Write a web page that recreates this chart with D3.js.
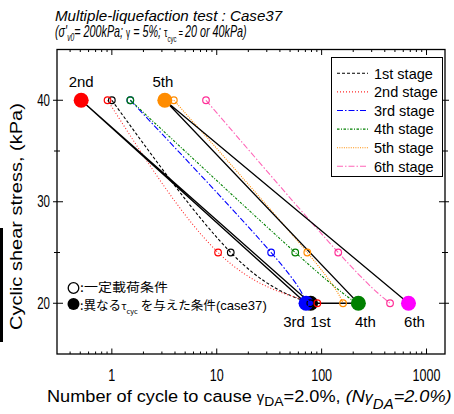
<!DOCTYPE html>
<html><head><meta charset="utf-8">
<script src="https://cdn.jsdelivr.net/npm/d3@7"></script>
<style>
body{margin:0;background:#fff}
svg{display:block}
text{font-family:"Liberation Sans",Arial,sans-serif;fill:#000}
</style>
</head><body><svg id="c" width="454" height="414"></svg>
<script>
// ---------------- data ----------------
const stages = ["1st stage","2nd stage","3rd stage","4th stage","5th stage","6th stage"];
const stageLabels = ["1st","2nd","3rd","4th","5th","6th"];
const tauLevels = [40, 25, 20];
// open circles (constant loading) : N at tau = 40, 25, 20
const open1st = [1.0, 13.6, 78];
const open2nd = [0.91, 10.3, 91];
const open3rd = [1.5, 33, 71];
const open4th = [1.5, 56, 215];
const open5th = [3.9, 73, 160];
const open6th = [7.9, 144, 449];
const openSeries = [open1st, open2nd, open3rd, open4th, open5th, open6th];
// filled circles (case37 sequence)
const filledN   = [78.5, 0.51, 71, 224, 3.2, 673];
const filledTau = [20, 40, 20, 20, 40, 20];
const xTickValues = [1, 10, 100, 1000];
const xTickLabels = ["1", "10", "100", "1000"];
const yTickValues = [20, 30, 40];
const yTickLabels = ["20", "30", "40"];
const yMinorValues = [25, 35];

// ---------------- style ----------------
const lineColors  = ["#000000", "#ff2a2a", "#0000ff", "#008000", "#ff8c00", "#ff66b8"];
const openColors  = ["#000000", "#ff0000", "#0000ff", "#008000", "#ff8c00", "#ff2f97"];
const fillColors  = ["#000000", "#ff0000", "#0000ff", "#008000", "#ff8c00", "#ff00ff"];
const dashes      = ["3,2", "1,2", "6,2,1.5,2", "2.5,1.5,1,1.5", "1,1.3", "6,2,1.5,2"];
const labelDx = [10, 0, -12, 7, -2, 6];
const labelDy = [24, -13, 24, 24, -13, 24];

const svg = d3.select("#c");
const L = 57, R = 445, T = 49.5, B = 354;
const x = d3.scaleLog().domain([0.3, 1500]).range([L, R]);
const y = d3.scaleLinear().domain([15, 45]).range([B, T]);

// helper: draw text then horizontally scale to a target width
function fitText(build, tx, ty, targetW, rot) {
  const g = svg.append("g");
  const t = g.append("text");
  build(t);
  const w = t.node().getBBox().width;
  const s = targetW / w;
  g.attr("transform", `translate(${tx},${ty})` + (rot ? ` rotate(${rot})` : "") + ` scale(${s},1)`);
  return g;
}

// artifact bar at left edge
svg.append("rect").attr("x", 0).attr("y", 228).attr("width", 3).attr("height", 114).attr("fill", "#000");

// ---------------- axes ticks ----------------
const minorX = x.ticks().filter(v => xTickValues.indexOf(v) < 0 && v > 0.3 && v < 1500);
const tickG = svg.append("g").attr("stroke", "#000").attr("stroke-width", 1);
minorX.forEach(v => {
  tickG.append("line").attr("x1", x(v)).attr("x2", x(v)).attr("y1", B).attr("y2", B - 2.5);
  tickG.append("line").attr("x1", x(v)).attr("x2", x(v)).attr("y1", T).attr("y2", T + 2.5);
});
xTickValues.forEach(v => {
  tickG.append("line").attr("x1", x(v)).attr("x2", x(v)).attr("y1", B).attr("y2", B - 5.5);
  tickG.append("line").attr("x1", x(v)).attr("x2", x(v)).attr("y1", T).attr("y2", T + 5.5);
});
yTickValues.forEach(v => {
  tickG.append("line").attr("x1", L - 4).attr("x2", L + 6).attr("y1", y(v)).attr("y2", y(v));
  tickG.append("line").attr("x1", R - 6).attr("x2", R + 4).attr("y1", y(v)).attr("y2", y(v));
});
yMinorValues.forEach(v => {
  tickG.append("line").attr("x1", L - 3).attr("x2", L + 3).attr("y1", y(v)).attr("y2", y(v));
  tickG.append("line").attr("x1", R - 3).attr("x2", R + 3).attr("y1", y(v)).attr("y2", y(v));
});

// tick labels (narrow)
xTickValues.forEach((v, i) => {
  svg.append("text").attr("transform", `translate(${x(v)},381) scale(0.74,1)`)
    .attr("text-anchor", "middle").style("font-size", "17px").text(xTickLabels[i]);
});
yTickValues.forEach((v, i) => {
  svg.append("text").attr("transform", `translate(50,${y(v) + 5.5}) scale(0.72,1)`)
    .attr("text-anchor", "end").style("font-size", "16px").text(yTickLabels[i]);
});

// ---------------- stage curves (open circles) ----------------
const curve = d3.line().x(d => x(d[0])).y(d => y(d[1])).curve(d3.curveNatural);
openSeries.forEach((s, i) => {
  const pts = s.map((n, k) => [n, tauLevels[k]]);
  svg.append("path").attr("d", curve(pts)).attr("fill", "none")
    .attr("stroke", lineColors[i]).attr("stroke-width", 1.1).attr("stroke-dasharray", dashes[i]);
});

// ---------------- case37 sequence line ----------------
const seq = d3.line().x(d => x(d[0])).y(d => y(d[1]));
svg.append("path").attr("d", seq(filledN.map((n, i) => [n, filledTau[i]])))
  .attr("fill", "none").attr("stroke", "#000").attr("stroke-width", 1.3);

// filled markers
filledN.forEach((n, i) => {
  svg.append("circle").attr("cx", x(n)).attr("cy", y(filledTau[i])).attr("r", 7.5).attr("fill", fillColors[i]);
});
// open markers
openSeries.forEach((s, i) => {
  s.forEach((n, k) => {
    svg.append("circle").attr("cx", x(n)).attr("cy", y(tauLevels[k])).attr("r", 3.3)
      .attr("fill", "none").attr("stroke", openColors[i]).attr("stroke-width", 1.2);
  });
});
// stage labels
filledN.forEach((n, i) => {
  svg.append("text").attr("x", x(n) + labelDx[i]).attr("y", y(filledTau[i]) + labelDy[i])
    .attr("text-anchor", "middle").style("font-size", "15px").text(stageLabels[i]);
});

// frame
svg.append("rect").attr("x", L).attr("y", T).attr("width", R - L).attr("height", B - T)
  .attr("fill", "none").attr("stroke", "#000").attr("stroke-width", 1.3);

// ---------------- legend ----------------
const lg = svg.append("g");
lg.append("rect").attr("x", 331.5).attr("y", 57.5).attr("width", 111).attr("height", 119)
  .attr("fill", "#fff").attr("stroke", "#000").attr("stroke-width", 1);
stages.forEach((s, i) => {
  const yy = 73.3 + i * 18.6;
  lg.append("line").attr("x1", 337).attr("x2", 368).attr("y1", yy).attr("y2", yy)
    .attr("stroke", lineColors[i]).attr("stroke-width", 1.1).attr("stroke-dasharray", dashes[i]);
  lg.append("text").attr("x", 374).attr("y", yy + 5.2).style("font-size", "14.5px").text(s);
});

// ---------------- annotations ----------------
svg.append("circle").attr("cx", 73.5).attr("cy", 288).attr("r", 5.3)
  .attr("fill", "#fff").attr("stroke", "#000").attr("stroke-width", 1.3);
svg.append("circle").attr("cx", 73.5).attr("cy", 304).attr("r", 6).attr("fill", "#000");
fitText(t => {
  t.style("font-family", "'Noto Sans CJK JP',sans-serif").style("font-size", "12px")
    .text(":一定載荷条件");
}, 80, 291.8, 88);
fitText(t => {
  t.style("font-family", "'Noto Sans CJK JP',sans-serif").style("font-size", "12px");
  t.append("tspan").text(":異なる");
  t.append("tspan").style("font-size", "10px").text("τ");
  t.append("tspan").style("font-size", "7px").attr("dy", 4).text("cyc");
  t.append("tspan").attr("dy", -4).text(" を与えた条件");
  t.append("tspan").style("font-family", "'Liberation Sans',Arial,sans-serif").style("font-size", "12.5px").text("(case37)");
}, 80, 309.5, 187);

// ---------------- titles ----------------
fitText(t => {
  t.style("font-style", "italic").style("font-size", "15px").text("Multiple-liquefaction test : Case37");
}, 55, 20.5, 228);
fitText(t => {
  t.style("font-style", "italic").style("font-size", "16px");
  t.append("tspan").text("(σ'");
  t.append("tspan").style("font-size", "10px").attr("dy", 4).text("v0");
  t.append("tspan").attr("dy", -4).text("= 200kPa; ");
  t.append("tspan").style("font-size", "12px").style("font-style", "normal").text("γ");
  t.append("tspan").text(" = 5%; ");
  t.append("tspan").style("font-size", "13px").style("font-style", "normal").text("τ");
  t.append("tspan").style("font-size", "9px").style("font-style", "normal").attr("dy", 5).text("cyc");
  t.append("tspan").style("font-size", "11px").attr("dy", -5).text(" = ");
  t.append("tspan").text("20 or 40kPa)");
}, 55, 37, 192);

// x label
fitText(t => {
  t.style("font-size", "17px");
  t.append("tspan").text("Number of cycle to cause ");
  t.append("tspan").style("font-size", "14px").text("γ");
  t.append("tspan").style("font-size", "13px").attr("dy", 4).text("DA");
  t.append("tspan").attr("dy", -4).text("=2.0%, ");
  t.append("tspan").style("font-style", "italic").text("(N");
  t.append("tspan").style("font-size", "15px").style("font-style", "italic").text("γ");
  t.append("tspan").style("font-size", "14px").style("font-style", "italic").attr("dy", 7).text("DA");
  t.append("tspan").style("font-style", "italic").attr("dy", -7).text("=2.0%)");
}, 47, 402, 405);

// y label
fitText(t => {
  t.style("font-size", "17px").text("Cyclic shear stress, (kPa)");
}, 22, 330, 227, -90);
</script>
</body></html>
